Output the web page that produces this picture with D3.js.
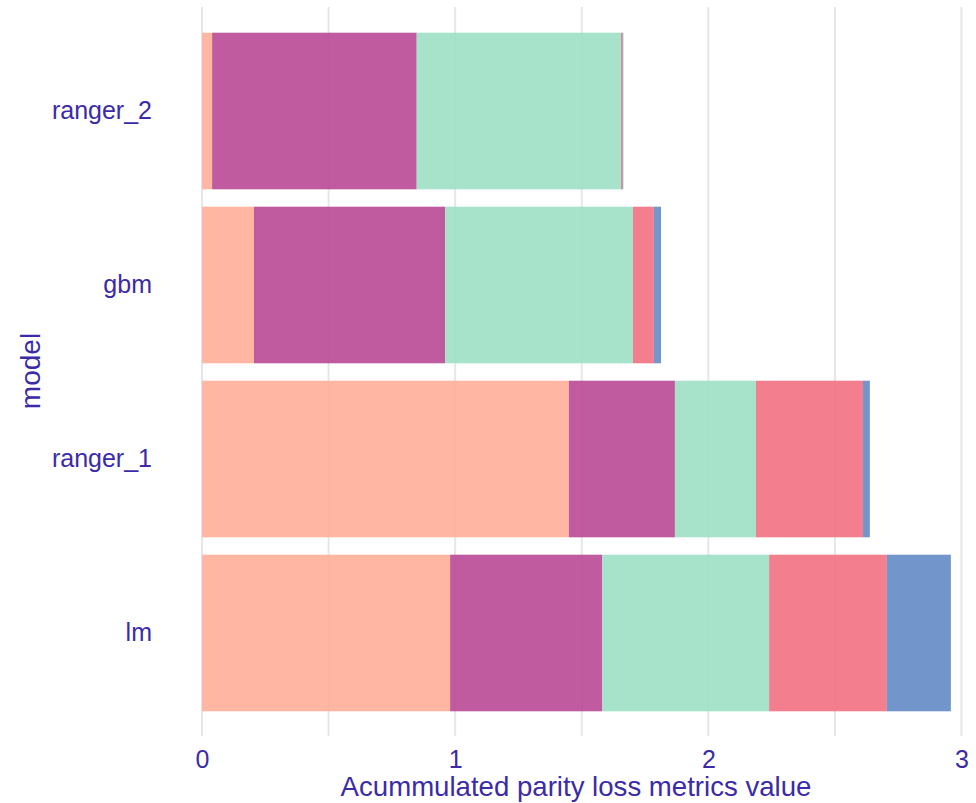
<!DOCTYPE html>
<html>
<head>
<meta charset="utf-8">
<script src="https://cdn.jsdelivr.net/npm/d3@7"></script>
<style>
  html, body { margin: 0; padding: 0; background: #fff; }
  svg { display: block; font-family: "Liberation Sans", Arial, sans-serif; }
</style>
</head>
<body>
<svg id="chart" width="976" height="803"></svg>
<script>
const models = ["ranger_2", "gbm", "ranger_1", "lm"];
const metrics = ["m1", "m2", "m3", "m4", "m5"];
const m1 = [0.040, 0.205, 1.449, 0.980];
const m2 = [0.808, 0.755, 0.419, 0.600];
const m3 = [0.807, 0.742, 0.320, 0.660];
const m4 = [0.006, 0.083, 0.423, 0.465];
const m5 = [0.003, 0.028, 0.027, 0.253];
const xTicks = [0, 1, 2, 3];
const xGrid = [0, 0.5, 1, 1.5, 2, 2.5, 3];
const colors = ["#FFAF9A", "#B84994", "#9DE0C4", "#F27182", "#638BC5"];
const textColor = "#3B2BA8";

const series = [m1, m2, m3, m4, m5];
const rows = models.map((m, i) => {
  const r = { model: m };
  metrics.forEach((k, j) => r[k] = series[j][i]);
  return r;
});
const stacked = d3.stack().keys(metrics)(rows);

const svg = d3.select("#chart");
const x = d3.scaleLinear().domain([0, 3]).range([202, 961.5]);
const y = d3.scaleBand().domain(models).range([24, 720]).paddingInner(0.1).paddingOuter(0.05);

// gridlines
svg.append("g").selectAll("line").data(xGrid).join("line")
  .attr("x1", d => x(d)).attr("x2", d => x(d))
  .attr("y1", 7).attr("y2", 736)
  .attr("stroke", "#e6e6e6").attr("stroke-width", 2);

// bars
svg.append("g").selectAll("g").data(stacked).join("g")
  .attr("fill", (d, i) => colors[i])
  .attr("fill-opacity", 0.9)
  .selectAll("rect").data(d => d).join("rect")
  .attr("x", d => x(d[0]))
  .attr("width", d => x(d[1]) - x(d[0]))
  .attr("y", d => y(d.data.model))
  .attr("height", y.bandwidth());

// x axis
const xAxis = svg.append("g").attr("transform", "translate(0,736)")
  .call(d3.axisBottom(x).tickValues(xTicks).tickFormat(d3.format("d")).tickSize(0).tickPadding(14));
xAxis.select(".domain").remove();
xAxis.selectAll("text").attr("fill", textColor).attr("font-size", 25)
  .attr("font-family", "Liberation Sans, Arial, sans-serif");

// y axis
const yAxis = svg.append("g").attr("transform", "translate(152,0)")
  .call(d3.axisLeft(y).tickSize(0).tickPadding(0));
yAxis.select(".domain").remove();
yAxis.selectAll("text").attr("fill", textColor).attr("font-size", 25)
  .attr("font-family", "Liberation Sans, Arial, sans-serif");

// titles
svg.append("text").attr("x", 576).attr("y", 796).attr("text-anchor", "middle")
  .attr("fill", textColor).attr("font-size", 27.6).text("Acummulated parity loss metrics value");
svg.append("text").attr("transform", "translate(40,371) rotate(-90)").attr("text-anchor", "middle")
  .attr("fill", textColor).attr("font-size", 28).text("model");
</script>
</body>
</html>
